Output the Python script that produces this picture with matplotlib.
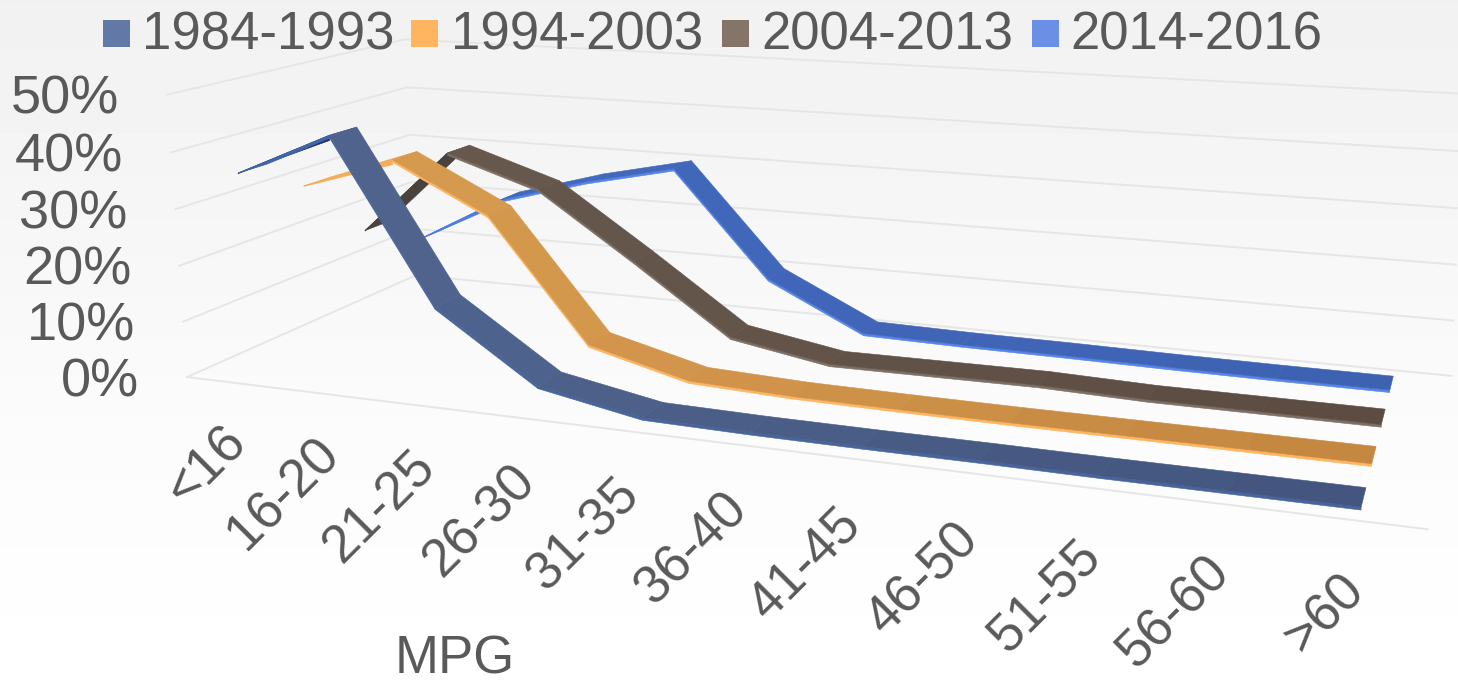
import numpy as np
import matplotlib
matplotlib.use('Agg')
import matplotlib.pyplot as plt
from matplotlib.colors import to_rgb
from matplotlib.patches import Polygon, Rectangle

plt.rcParams['font.family'] = ['Liberation Sans', 'DejaVu Sans']

# data (percent of vehicles per MPG bin)
mpg_bins = ['<16', '16-20', '21-25', '26-30', '31-35', '36-40', '41-45', '46-50', '51-55', '56-60', '>60']
period_labels = ['1984-1993', '1994-2003', '2004-2013', '2014-2016']
share_1984 = [36.0, 43.8, 15.7, 3.9, 0.6, 0.3, 0.2, 0.2, 0.1, 0.1, 0.1]
share_1994 = [30.0, 36.1, 27.4, 5.7, 1.2, 0.5, 0.3, 0.2, 0.2, 0.2, 0.2]
share_2004 = [17.5, 33.9, 28.3, 16.3, 3.8, 0.7, 0.8, 0.9, 0.4, 0.4, 0.4]
share_2014 = [11.5, 21.0, 26.0, 29.9, 10.0, 1.2, 0.9, 0.8, 0.6, 0.5, 0.5]
pct_ticks = [0, 10, 20, 30, 40, 50]

TEXT = '#595959'
GRID = '#e6e6e6'
top_cols = [('#50658f', '#445680'), ('#d89c50', '#c58840'), ('#68594f', '#5c4c42'), ('#4369be', '#3e62b2')]
side_cols = ['#46659f', '#ffb45f', '#7d6f65', '#5585e8']
first_top = ['#3f66ad', '#f2aa58', '#4a423c', '#4f7be0']
first_side = ['#1f2c55', '#f5ad5a', '#2a2623', '#4f7be0']
legend_cols = ['#6278a6', '#ffb45f', '#857468', '#6a8fe5']
FS = 38
TICK_FS = 39
WIDTH = 0.055  # half depth of a ribbon
LIP = 0.45     # height of the ribbon's front face

# camera: box corner in (category, depth, percent) -> pixel
corners = [((0, 0, 0), (190, 375)), ((11, 0, 0), (1428, 530)), ((0, 1, 0), (413, 277)), ((11, 1, 0), (1452, 375)),
           ((0, 0, 50), (164, 96)), ((0, 1, 50), (408, 38)), ((11, 1, 50), (1462, 94))]
rows = []
for (x, y, z), (u, v) in corners:
    rows.append([x, y, z, 1, 0, 0, 0, 0, -u*x, -u*y, -u*z, -u])
    rows.append([0, 0, 0, 0, x, y, z, 1, -v*x, -v*y, -v*z, -v])
P = np.linalg.svd(np.array(rows, float))[2][-1].reshape(3, 4)


def proj(x, y, z):
    q = P @ np.array([x, y, z, 1.0])
    return q[:2] / q[2]


def blend(a, b, t):
    a, b = np.array(to_rgb(a)), np.array(to_rgb(b))
    return tuple(a + (b - a) * t)


fig = plt.figure(figsize=(14.58, 6.86), dpi=100)
ax = fig.add_axes([0, 0, 1, 1])

# background fade
fade = np.interp(np.arange(686), [0, 200, 420, 686], [0.945, 0.963, 0.985, 1.0]).reshape(-1, 1)
ax.imshow(fade, cmap='gray', vmin=0, vmax=1, extent=[0, 1458, 686, 0], aspect='auto', zorder=0)
ax.set_xlim(0, 1458)
ax.set_ylim(686, 0)
ax.axis('off')

# walls and floor
for z in pct_ticks:
    line = np.array([proj(0, 0, z), proj(0, 1, z), proj(11, 1, z)])
    ax.plot(line[:, 0], line[:, 1], color=GRID, lw=1.4, zorder=1)
    u, v = proj(0, 0, z)
    ax.text(u - 48, v + 5, f'{z}%', fontsize=TICK_FS, color=TEXT, ha='right', va='center')
edge = np.array([proj(0, 0, 0), proj(11, 0, 0)])
ax.plot(edge[:, 0], edge[:, 1], color=GRID, lw=1.4, zorder=1)

# ribbons, back to front
all_series = [share_1984, share_1994, share_2004, share_2014]
for s in [3, 2, 1, 0]:
    vals = all_series[s]
    d = (s + 0.5) / 4
    zo = 10 + (3 - s)
    for i in range(len(vals) - 1):
        x0, x1 = i + 0.5, i + 1.5
        z0, z1 = vals[i], vals[i + 1]
        # first leg tapers to a point at its start
        lip0, lip1 = (0.1, LIP * 2) if i == 0 else (LIP, LIP)
        sc = first_side[s] if i == 0 else side_cols[s]
        side = [proj(x0, d - WIDTH, z0), proj(x1, d - WIDTH, z1), proj(x1, d - WIDTH, z1 - lip1), proj(x0, d - WIDTH, z0 - lip0)]
        ax.add_patch(Polygon(side, closed=True, fc=sc, ec=sc, lw=0.4, zorder=zo))
        top = [proj(x0, d - WIDTH, z0), proj(x1, d - WIDTH, z1), proj(x1, d + WIDTH, z1), proj(x0, d + WIDTH, z0)]
        c = first_top[s] if i == 0 else blend(top_cols[s][0], top_cols[s][1], i / 9)
        ax.add_patch(Polygon(top, closed=True, fc=c, ec=c, lw=0.4, zorder=zo))

# category labels
for i, lab in enumerate(mpg_bins):
    u, v = proj(i + 0.5, 0, 0)
    ax.text(u - 12 - 0.7 * i, v + 34 + i, lab, fontsize=FS, color=TEXT, rotation=45, rotation_mode='anchor', ha='right', va='top')

ax.text(455, 660, 'MPG', fontsize=FS, color=TEXT, ha='center', va='center')

# legend
swatch_x = [103, 411, 722, 1032]
label_x = [142, 451, 761, 1070]
for sx, lx, c, lab in zip(swatch_x, label_x, legend_cols, period_labels):
    ax.add_patch(Rectangle((sx, 20), 27, 27, fc=c, ec='none', zorder=5))
    ax.text(lx, 36, lab, fontsize=FS, color=TEXT, ha='left', va='center')

fig.savefig('out.png', dpi=100)
